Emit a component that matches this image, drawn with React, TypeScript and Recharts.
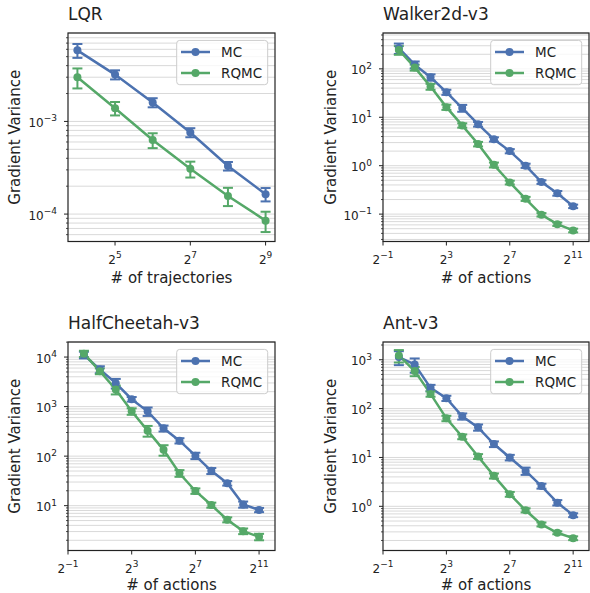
import React from 'react'
import { LineChart, Line, XAxis, YAxis, CartesianGrid, ErrorBar } from 'recharts'

const FONT = '"DejaVu Sans", sans-serif'
const INK = '#222222'
const MC_COLOR = '#4c72b0'
const RQMC_COLOR = '#55a868'

// x values
const trajectories = [16, 32, 64, 128, 256, 512]
const actions = [1, 2, 4, 8, 16, 32, 64, 128, 256, 512, 1024, 2048]
const lqrXTicks = [32, 128, 512]
const actionXTicks = [0.5, 8, 128, 2048]

// LQR
const lqrMC = [5.85e-3, 3.2e-3, 1.6e-3, 7.6e-4, 3.3e-4, 1.64e-4]
const lqrMCErr = [1.0e-3, 3.6e-4, 1.8e-4, 8.5e-5, 3.5e-5, 2.7e-5]
const lqrRQMC = [3.0e-3, 1.39e-3, 6.3e-4, 3.08e-4, 1.57e-4, 8.5e-5]
const lqrRQMCErr = [7.3e-4, 2.3e-4, 1.15e-4, 6e-5, 3.5e-5, 2.1e-5]

// Walker2d-v3
const walkerMC = [268, 122, 67, 33, 15.5, 7.2, 3.5, 2.0, 1.0, 0.46, 0.27, 0.145]
const walkerMCErr = [65, 20, 10, 4, 2.5, 0.8, 0.35, 0.2, 0.1, 0.04, 0.03, 0.012]
const walkerRQMC = [245, 107, 43, 16.2, 6.8, 2.8, 1.04, 0.45, 0.207, 0.097, 0.062, 0.046]
const walkerRQMCErr = [50, 15, 6, 2, 0.7, 0.3, 0.12, 0.04, 0.02, 0.008, 0.005, 0.004]

// HalfCheetah-v3
const cheetahMC = [11100, 5620, 2970, 1410, 803, 364, 205, 102, 50.5, 28.4, 10.6, 8.2]
const cheetahMCErr = [1700, 900, 650, 150, 155, 50, 25, 15, 7, 3, 1.5, 0.8]
const cheetahRQMC = [11700, 5200, 2210, 803, 327, 134, 45.2, 19.8, 10.3, 5.2, 3.06, 2.35]
const cheetahRQMCErr = [1700, 700, 450, 120, 80, 32, 7, 2.5, 1.2, 0.6, 0.4, 0.35]

// Ant-v3
const antMC = [1135, 802, 266, 163, 69.5, 41.3, 18.8, 10, 5.3, 2.6, 1.19, 0.66]
const antMCErr = [360, 260, 40, 20, 10, 6, 2.5, 1.3, 0.9, 0.3, 0.15, 0.06]
const antRQMC = [1227, 585, 200, 63.2, 26.6, 10.5, 4.2, 1.77, 0.83, 0.427, 0.288, 0.223]
const antRQMCErr = [350, 125, 25, 8, 3, 1.2, 0.5, 0.2, 0.08, 0.04, 0.02, 0.02]

const series = [
  { key: 'mc', name: 'MC', color: MC_COLOR },
  { key: 'rq', name: 'RQMC', color: RQMC_COLOR },
]

const rows = (xs: number[], mc: number[], mcErr: number[], rq: number[], rqErr: number[]) =>
  xs.map((x, i) => ({ x, mc: mc[i], mcErr: mcErr[i], rq: rq[i], rqErr: rqErr[i] }))

const panels = [
  {
    title: 'LQR', xLabel: '# of trajectories', left: 0, top: 0, yW: 68, mr: 20, yLabelOff: 15, xLabelOff: 17.5,
    data: rows(trajectories, lqrMC, lqrMCErr, lqrRQMC, lqrRQMCErr),
    xDomain: [2 ** 3.75, 2 ** 9.25], xTicks: lqrXTicks, yDomain: [5.06e-5, 9.0e-3],
  },
  {
    title: 'Walker2d-v3', xLabel: '# of actions', left: 295, top: 0, yW: 88, mr: 1, yLabelOff: 36, xLabelOff: 17.5,
    data: rows(actions, walkerMC, walkerMCErr, walkerRQMC, walkerRQMCErr),
    xDomain: [0.5, 4096], xTicks: actionXTicks, yDomain: [0.0272, 550],
  },
  {
    title: 'HalfCheetah-v3', xLabel: '# of actions', left: 0, top: 309, yW: 68, mr: 20, yLabelOff: 15, xLabelOff: 19.5,
    data: rows(actions, cheetahMC, cheetahMCErr, cheetahRQMC, cheetahRQMCErr),
    xDomain: [0.5, 4096], xTicks: actionXTicks, yDomain: [1.244, 20140],
  },
  {
    title: 'Ant-v3', xLabel: '# of actions', left: 295, top: 309, yW: 88, mr: 1, yLabelOff: 36, xLabelOff: 19.5,
    data: rows(actions, antMC, antMCErr, antRQMC, antRQMCErr),
    xDomain: [0.5, 4096], xTicks: actionXTicks, yDomain: [0.1247, 2307],
  },
]

const W = 295
const H = 300
const MT = 33
const XH = 58.5
const PH = H - MT - XH

// major + minor ticks of a log10 axis
function logTicks([lo, hi]: number[]) {
  const out: number[] = []
  for (let d = Math.floor(Math.log10(lo)); d <= Math.ceil(Math.log10(hi)); d++) {
    for (let k = 1; k < 10; k++) {
      const v = k * 10 ** d
      if (v >= lo && v <= hi) out.push(v)
    }
  }
  return out
}

const fmtExp = (n: number) => (n < 0 ? '\u2212' + Math.abs(n) : String(n))

function YTick(props: any) {
  const { x, y, payload } = props
  const e = Math.log10(payload.value)
  const major = Math.abs(e - Math.round(e)) < 1e-6
  return (
    <g>
      <line x1={x} x2={x - (major ? 4 : 2)} y1={y} y2={y} stroke={INK} strokeWidth={major ? 1 : 0.8} />
      {major && (
        <text x={x - 11} y={y + 5.5} textAnchor="end" fontSize={12} fontFamily={FONT} fill={INK}>
          10<tspan dy={-5.5} fontSize={9}>{fmtExp(Math.round(e))}</tspan>
        </text>
      )}
    </g>
  )
}

function XTick(props: any) {
  const { x, y, payload } = props
  const e = Math.round(Math.log2(payload.value))
  return (
    <g>
      <line x1={x} x2={x} y1={y} y2={y + 4} stroke={INK} strokeWidth={1} />
      <text x={x} y={y + 22} textAnchor="middle" fontSize={12} fontFamily={FONT} fill={INK}>
        2<tspan dy={-6} fontSize={9}>{fmtExp(e)}</tspan>
      </text>
    </g>
  )
}

function Overlay({ title, plotLeft, plotRight }: { title: string; plotLeft: number; plotRight: number }) {
  const lw = 91
  const lx = plotRight - 7.3 - lw
  const ly = MT + 7.4
  return (
    <svg width={W} height={H} style={{ position: 'absolute', left: 0, top: 0, pointerEvents: 'none' }}>
      <rect x={plotLeft} y={MT} width={plotRight - plotLeft} height={PH} fill="none" stroke={INK} strokeWidth={1.2} />
      <text x={plotLeft} y={19.5} fontSize={17} fontFamily={FONT} fill={INK}>{title}</text>
      <rect x={lx} y={ly} width={lw} height={44.3} rx={3} fill="#ffffff" fillOpacity={0.8} stroke="#cccccc" />
      {series.map((s, i) => {
        const cy = ly + 11.6 + 21 * i
        return (
          <g key={s.key}>
            <line x1={lx + 4.3} x2={lx + 33.3} y1={cy} y2={cy} stroke={s.color} strokeWidth={2.5} />
            <circle cx={lx + 18.8} cy={cy} r={4} fill={s.color} />
            <text x={lx + 44.3} y={cy + 5} fontSize={13.5} fontFamily={FONT} fill={INK}>{s.name}</text>
          </g>
        )
      })}
    </svg>
  )
}

function Panel({ p }: { p: (typeof panels)[number] }) {
  const plotLeft = p.yW
  const plotRight = W - p.mr
  return (
    <div style={{ position: 'absolute', left: p.left, top: p.top, width: W, height: H }}>
      <LineChart width={W} height={H} data={p.data} margin={{ top: MT, right: p.mr, bottom: 0, left: 0 }}>
        <CartesianGrid vertical={false} stroke="#d9d9d9" strokeWidth={1} />
        <XAxis
          dataKey="x"
          type="number"
          scale="log"
          domain={p.xDomain}
          allowDataOverflow
          ticks={p.xTicks}
          interval={0}
          height={XH}
          tickSize={0}
          tickMargin={0}
          tickLine={false}
          tick={<XTick />}
          axisLine={false}
          label={{ value: p.xLabel, position: 'insideBottom', offset: p.xLabelOff, style: { fontSize: 15, fontFamily: FONT, fill: INK } }}
        />
        <YAxis
          type="number"
          scale="log"
          domain={p.yDomain}
          allowDataOverflow
          ticks={logTicks(p.yDomain)}
          interval={0}
          width={p.yW}
          tickSize={0}
          tickMargin={0}
          tickLine={false}
          tick={<YTick />}
          axisLine={false}
          label={{
            value: 'Gradient Variance', angle: -90, position: 'insideLeft', offset: p.yLabelOff,
            style: { textAnchor: 'middle', fontSize: 15, fontFamily: FONT, fill: INK },
          }}
        />
        {series.map((s) => (
          <Line
            key={s.key}
            type="linear"
            dataKey={s.key}
            name={s.name}
            stroke={s.color}
            strokeWidth={2.5}
            dot={{ r: 4, fill: s.color, stroke: s.color, strokeWidth: 0 }}
            activeDot={false}
            isAnimationActive={false}
          >
            <ErrorBar dataKey={s.key + 'Err'} direction="y" width={5} stroke={s.color} strokeWidth={2} isAnimationActive={false} />
          </Line>
        ))}
      </LineChart>
      <Overlay title={p.title} plotLeft={plotLeft} plotRight={plotRight} />
    </div>
  )
}

export default function App() {
  return (
    <div style={{ position: 'absolute', left: 0, top: 0, width: 590, height: 593, overflow: 'hidden', background: '#fff' }}>
      {panels.map((p) => (
        <Panel key={p.title} p={p} />
      ))}
    </div>
  )
}
